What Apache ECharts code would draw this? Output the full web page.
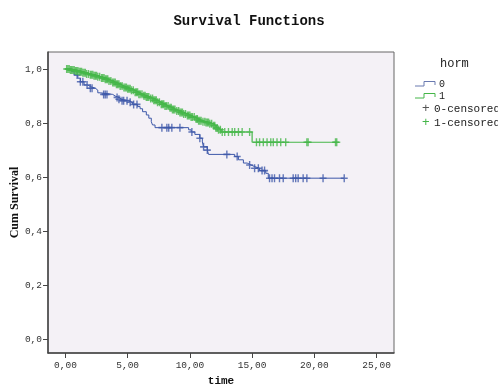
<!DOCTYPE html>
<html><head><meta charset="utf-8">
<script src="https://cdn.jsdelivr.net/npm/echarts@6/dist/echarts.min.js"></script>
<style>html,body{margin:0;padding:0;background:#fff}#c{width:498px;height:390px}</style>
</head><body><div id="c"></div>
<script>
// Kaplan-Meier step data: [time, survival after this time]
const horm0Steps = [
  [0,1.0],[0.5,0.99],[0.7,0.978],[1.0,0.966],[1.2,0.953],[1.5,0.941],[1.8,0.935],[2.0,0.929],
  [2.4,0.922],[2.6,0.912],[2.8,0.906],[3.8,0.9],[4.0,0.895],[4.3,0.888],[4.5,0.883],[5.0,0.877],
  [5.4,0.869],[5.8,0.861],[6.0,0.853],[6.2,0.842],[6.5,0.83],[6.7,0.818],[6.9,0.805],[7.0,0.793],
  [7.2,0.783],[9.9,0.775],[10.1,0.767],[10.4,0.758],[10.8,0.744],[11.0,0.73],[11.1,0.712],
  [11.4,0.70],[11.5,0.684],[13.6,0.676],[13.9,0.664],[14.3,0.652],[14.6,0.645],[14.9,0.639],
  [15.2,0.633],[15.6,0.624],[16.1,0.614],[16.3,0.596],[22.4,0.596]
];
const horm1Steps = [
  [0,1.0],[0.4,0.996],[0.8,0.993],[1.1,0.99],[1.4,0.986],[1.7,0.982],[2.0,0.979],[2.3,0.975],
  [2.6,0.971],[2.9,0.967],[3.2,0.962],[3.5,0.956],[3.8,0.95],[4.1,0.944],[4.4,0.937],[4.7,0.932],
  [5.0,0.927],[5.3,0.921],[5.6,0.914],[5.9,0.907],[6.2,0.901],[6.5,0.896],[6.8,0.891],[7.1,0.884],
  [7.4,0.877],[7.7,0.87],[8.0,0.863],[8.3,0.857],[8.6,0.85],[8.9,0.845],[9.2,0.839],[9.5,0.834],
  [9.8,0.828],[10.1,0.822],[10.4,0.815],[10.7,0.809],[11.0,0.805],[11.3,0.802],[11.6,0.797],
  [11.9,0.79],[12.1,0.782],[12.3,0.775],[12.5,0.767],[15.0,0.729],[21.8,0.729]
];
// censored observation times
const horm0Censored = [0.94,1.2,1.4,1.74,2.0,2.14,3.07,3.2,3.34,4.15,4.3,4.55,4.68,4.95,5.2,5.48,5.75,
  7.75,8.15,8.3,8.55,9.2,10.16,10.8,11.1,11.4,12.97,13.8,14.8,15.2,15.5,15.8,16.0,
  16.4,16.6,16.8,17.2,17.5,18.3,18.5,18.7,19.1,19.4,20.7,22.4];
const horm1Censored = [0.1,0.2,0.3,0.4,0.5,0.6,0.7,0.8,0.9,1.0,1.1,1.2,1.3,1.4,1.5,1.6,1.7,1.85,2.0,2.1,2.2,2.3,2.4,2.5,2.6,2.75,2.9,3.0,3.1,3.2,3.3,3.4,3.5,3.65,
  3.8,3.9,4.0,4.1,4.2,4.3,4.4,4.55,4.7,4.8,4.9,5.0,5.1,5.2,5.3,5.45,5.6,5.7,5.8,5.9,6.0,6.15,6.3,6.4,6.5,6.6,6.7,6.85,7.0,7.1,7.2,7.3,7.4,7.55,7.7,7.8,7.9,8.0,8.1,8.25,8.4,8.5,8.6,8.7,
  8.8,8.95,9.1,9.2,9.3,9.4,9.5,9.65,9.8,9.9,10.0,10.1,10.2,10.35,10.5,10.6,10.7,10.8,10.9,11.05,11.2,11.3,11.4,11.5,11.6,11.75,11.9,12.0,12.1,12.2,12.3,12.45,12.6,12.8,13.1,
  13.4,13.6,13.9,14.2,14.8,15.35,15.6,15.9,16.2,16.5,16.7,17.0,17.3,17.7,19.4,19.5,21.7,21.8];
const xTicks = [0,5,10,15,20,25];
const yTicks = [0,0.2,0.4,0.6,0.8,1.0];

const BLUE = '#3d58a9', GREEN = '#45b649';
function survAt(steps, t){ let v = steps[0][1]; for (const s of steps){ if (s[0] <= t) v = s[1]; else break; } return v; }
const cross = 'path://M4,0L6,0L6,4L10,4L10,6L6,6L6,10L4,10L4,6L0,6L0,4L4,4Z';
const mono = "'Liberation Mono', 'DejaVu Sans Mono', monospace";

const chart = echarts.init(document.getElementById('c'));
chart.setOption({
  animation:false,
  backgroundColor:'#fff',
  title:{text:'Survival Functions', left:'center', top:9,
    textStyle:{fontFamily:mono, fontWeight:'bold', fontSize:14, color:'#111'}},
  grid:{left:48, top:52, right:104, bottom:37, outerBoundsMode:'none', containLabel:false,
    show:true, backgroundColor:'#f4f1f6', borderColor:'#666', borderWidth:1},
  xAxis:{type:'value', min:-1.4, max:26.4, name:'time', nameLocation:'middle', nameGap:23, nameMoveOverlap:false,
    nameTextStyle:{fontFamily:mono, fontWeight:'bold', fontSize:11, color:'#111'},
    axisLine:{onZero:false, lineStyle:{color:'#444', width:1.5}},
    axisTick:{show:true, customValues:xTicks, length:5, inside:false, lineStyle:{color:'#444'}},
    axisLabel:{customValues:xTicks, fontFamily:mono, fontSize:9.5, color:'#333', margin:7,
      formatter:v=>v.toFixed(2).replace('.',',')},
    splitLine:{show:false}},
  yAxis:{type:'value', min:-0.051, max:1.063, name:'Cum Survival', nameLocation:'middle', nameGap:27, nameMoveOverlap:false,
    nameTextStyle:{fontFamily:"'Liberation Serif', serif", fontWeight:'bold', fontSize:12, color:'#111'},
    axisLine:{onZero:false, lineStyle:{color:'#444', width:1.5}},
    axisTick:{show:true, customValues:yTicks, length:5, inside:false, lineStyle:{color:'#444'}},
    axisLabel:{customValues:yTicks, fontFamily:mono, fontSize:9.5, color:'#333', margin:6,
      formatter:v=>v.toFixed(1).replace('.',',')},
    splitLine:{show:false}},
  series:[
    {name:'0', type:'line', step:'end', data:horm0Steps, showSymbol:false, lineStyle:{color:BLUE, width:1}, z:3},
    {name:'1', type:'line', step:'end', data:horm1Steps, showSymbol:false, lineStyle:{color:GREEN, width:1.2}, z:3},
    {name:'0-censored', type:'scatter', symbol:cross, symbolSize:[7,8], itemStyle:{color:BLUE},
      data:horm0Censored.map(t=>[t, survAt(horm0Steps,t)]), z:4},
    {name:'1-censored', type:'scatter', symbol:cross, symbolSize:[7,8], itemStyle:{color:GREEN},
      data:horm1Censored.map(t=>[t, survAt(horm1Steps,t)]), z:5}
  ],
  graphic:[
    {type:'text', left:440, top:58, style:{text:'horm', font:"12px 'Liberation Mono'", fill:'#222'}},
    {type:'polyline', shape:{points:[[415,86],[424,86],[424,81.5],[435,81.5],[435,85]]}, style:{stroke:'#6a7ab0', lineWidth:1, fill:null}},
    {type:'text', left:439, top:79, style:{text:'0', font:"10px 'Liberation Mono'", fill:'#222'}},
    {type:'polyline', shape:{points:[[415,98],[424,98],[424,93.5],[435,93.5],[435,97]]}, style:{stroke:GREEN, lineWidth:1, fill:null}},
    {type:'text', left:439, top:91, style:{text:'1', font:"10px 'Liberation Mono'", fill:'#222'}},
    {type:'text', left:422, top:102, style:{text:'+', font:"13px 'Liberation Sans'", fill:'#555'}},
    {type:'text', left:434, top:104, style:{text:'0-censored', font:"11px 'Liberation Mono'", fill:'#222'}},
    {type:'text', left:422, top:116, style:{text:'+', font:"13px 'Liberation Sans'", fill:GREEN}},
    {type:'text', left:434, top:118, style:{text:'1-censored', font:"11px 'Liberation Mono'", fill:'#222'}}
  ]
});
</script></body></html>
